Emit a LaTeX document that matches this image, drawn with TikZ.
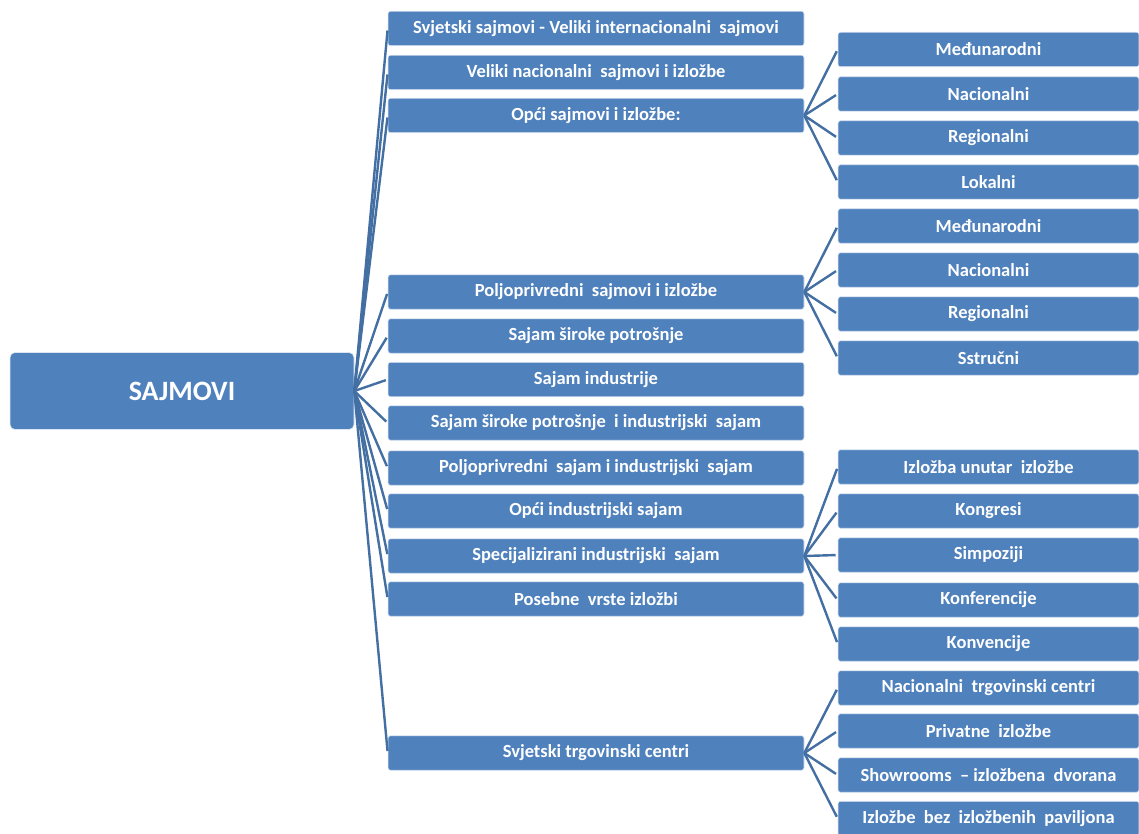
\documentclass[tikz,border=0pt]{standalone}
\usepackage{fontspec}
\setmainfont{Carlito}
\definecolor{boxblue}{RGB}{79,129,189}
\definecolor{lineblue}{RGB}{68,111,163}
\tikzset{
  box/.style={rectangle, rounded corners=2.5pt, fill=boxblue, draw=white!80!boxblue, line width=0.6pt,
    text=white, font=\bfseries\fontsize{18.5}{20}\selectfont, inner sep=0pt},
  midbox/.style={box, minimum width=416pt, minimum height=34.5pt},
  subbox/.style={box, minimum width=301pt, minimum height=34.5pt},
  rootbox/.style={box, rounded corners=5pt, minimum width=344pt, minimum height=77pt, font=\bfseries\fontsize{28}{30}\selectfont},
  conn/.style={draw=lineblue, line width=2.4pt, shorten >=2pt}
}
\begin{document}
\begin{tikzpicture}[x=1pt,y=-1pt]
\useasboundingbox (0,0) rectangle (1139,834);
\node[rootbox] (root) at (182,391) {SAJMOVI};
% middle column
\node[midbox] (m1) at (596,28.5) {Svjetski sajmovi - Veliki internacionalni\ \ sajmovi};
\node[midbox] (m2) at (596,72.5) {Veliki nacionalni\ \ sajmovi i izložbe};
\node[midbox] (m3) at (596,115.5) {Opći sajmovi i izložbe:};
\node[midbox] (m4) at (596,292) {Poljoprivredni\ \ sajmovi i izložbe};
\node[midbox] (m5) at (596,336) {Sajam široke potrošnje};
\node[midbox] (m6) at (596,379.5) {Sajam industrije};
\node[midbox] (m7) at (596,423) {Sajam široke potrošnje\ \ i industrijski\ \ sajam};
\node[midbox] (m8) at (596,468) {Poljoprivredni\ \ sajam i industrijski\ \ sajam};
\node[midbox] (m9) at (596,511) {Opći industrijski sajam};
\node[midbox] (m10) at (596,556) {Specijalizirani industrijski\ \ sajam};
\node[midbox] (m11) at (596,599) {Posebne\ \ vrste izložbi};
\node[midbox] (m12) at (596,753) {Svjetski trgovinski centri};
% right column, group A
\node[subbox] (a1) at (988.5,49.5) {Međunarodni};
\node[subbox] (a2) at (988.5,94) {Nacionalni};
\node[subbox] (a3) at (988.5,138) {Regionalni};
\node[subbox] (a4) at (988.5,182) {Lokalni};
% group B
\node[subbox] (b1) at (988.5,226) {Međunarodni};
\node[subbox] (b2) at (988.5,270) {Nacionalni};
\node[subbox] (b3) at (988.5,314) {Regionalni};
\node[subbox] (b4) at (988.5,358) {Sstručni};
% group C
\node[subbox] (c1) at (988.5,467) {Izložba unutar\ \ izložbe};
\node[subbox] (c2) at (988.5,511) {Kongresi};
\node[subbox] (c3) at (988.5,555) {Simpoziji};
\node[subbox] (c4) at (988.5,600) {Konferencije};
\node[subbox] (c5) at (988.5,644) {Konvencije};
% group D
\node[subbox] (d1) at (988.5,688) {Nacionalni\ \ trgovinski centri};
\node[subbox] (d2) at (988.5,731) {Privatne\ \ izložbe};
\node[subbox] (d3) at (988.5,775) {Showrooms\ \ –\ izložbena\ \ dvorana};
\node[subbox] (d4) at (988.5,818.5) {Izložbe\ \ bez\ \ izložbenih\ \ paviljona};
% connectors
\foreach \m in {m1,m2,m3,m4,m5,m6,m7,m8,m9,m10,m11,m12}
  \draw[conn] (root.east) -- (\m.west);
\foreach \s in {a1,a2,a3,a4}
  \draw[conn] (m3.east) -- (\s.west);
\foreach \s in {b1,b2,b3,b4}
  \draw[conn] (m4.east) -- (\s.west);
\foreach \s in {c1,c2,c3,c4,c5}
  \draw[conn] (m10.east) -- (\s.west);
\foreach \s in {d1,d2,d3,d4}
  \draw[conn] (m12.east) -- (\s.west);
\end{tikzpicture}
\end{document}
